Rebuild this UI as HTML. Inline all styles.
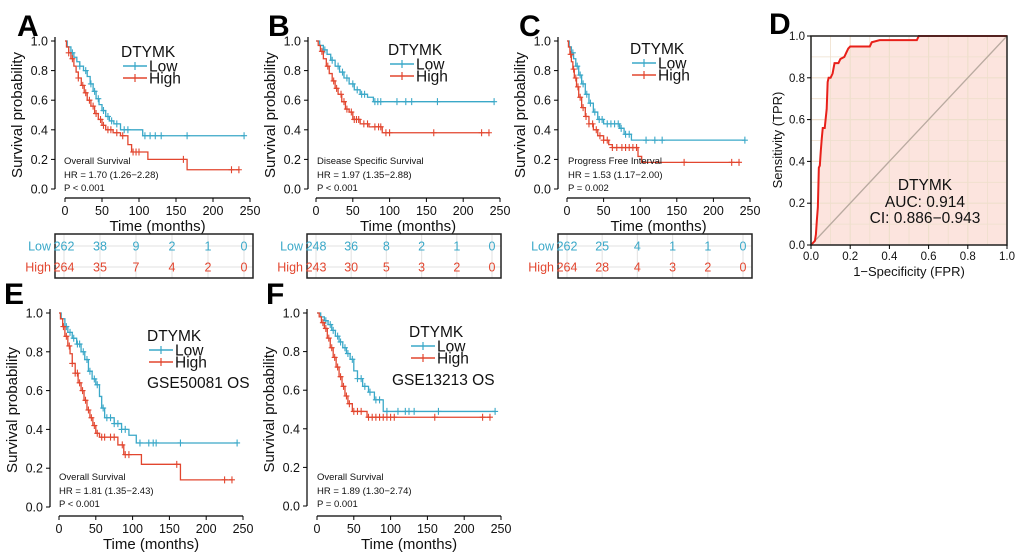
<!DOCTYPE html>
<html><head><meta charset="utf-8">
<style>
html,body{margin:0;padding:0;background:#fff;}
svg{display:block;font-family:"Liberation Sans",Arial,sans-serif;}
</style></head>
<body>
<svg id="fig" width="1020" height="556" viewBox="0 0 1020 556" xmlns="http://www.w3.org/2000/svg"></svg>
<script>
// ---------- DATA ----------
// Kaplan-Meier steps: times where survival drops, and survival after drop
const aLowT  = [3,8,12,16,20,25,30,34,38,42,46,50,55,60,66,75,105];
const aLowS  = [0.96,0.92,0.89,0.86,0.83,0.80,0.76,0.71,0.66,0.61,0.57,0.53,0.49,0.46,0.44,0.40,0.36];
const aHighT = [2,5,8,12,15,18,22,26,30,35,40,45,50,55,65,75,85,90,112,165];
const aHighS = [0.96,0.92,0.88,0.83,0.79,0.75,0.70,0.65,0.60,0.56,0.51,0.47,0.43,0.40,0.38,0.36,0.30,0.25,0.20,0.13];
const aLowC  = [10,20,28,35,40,45,52,58,63,70,80,85,108,115,122,130,165,242];
const aHighC = [5,10,18,24,28,33,38,42,48,52,58,62,70,78,92,96,100,160,225,235];

const bLowT  = [5,10,15,20,26,32,38,45,52,60,70,78];
const bLowS  = [0.97,0.94,0.91,0.87,0.83,0.79,0.75,0.71,0.67,0.64,0.62,0.59];
const bHighT = [3,6,10,14,18,22,26,30,35,40,45,50,60,72,90];
const bHighS = [0.97,0.93,0.88,0.83,0.78,0.73,0.68,0.64,0.59,0.54,0.52,0.47,0.44,0.42,0.38];
const bLowC  = [12,22,30,36,42,50,56,62,66,80,84,88,110,122,130,165,242];
const bHighC = [8,16,24,28,34,38,42,48,52,55,58,65,70,80,85,88,95,100,160,225,235];

const cLowT  = [3,6,9,12,16,20,25,30,36,42,50,72,78,88];
const cLowS  = [0.96,0.92,0.88,0.83,0.77,0.71,0.64,0.58,0.52,0.47,0.44,0.41,0.37,0.33];
const cHighT = [2,4,6,8,10,13,16,20,25,30,36,42,50,57,62,75,97,102];
const cHighS = [0.96,0.91,0.86,0.81,0.75,0.69,0.62,0.55,0.49,0.44,0.40,0.36,0.33,0.30,0.28,0.28,0.22,0.18];
const cLowC  = [8,14,18,22,27,32,38,44,48,55,60,65,70,74,80,85,108,120,130,243];
const cHighC = [5,9,12,15,18,22,26,30,35,40,45,50,55,62,68,75,80,85,90,95,160,225,235];

const eLowT  = [3,8,12,18,24,30,35,40,45,50,55,58,62,75,85,95,105];
const eLowS  = [0.97,0.93,0.90,0.87,0.84,0.80,0.76,0.70,0.66,0.63,0.57,0.51,0.46,0.43,0.40,0.37,0.33];
const eHighT = [2,5,8,12,15,18,22,26,30,34,38,42,46,50,55,80,88,112,165];
const eHighS = [0.97,0.93,0.88,0.83,0.79,0.74,0.69,0.64,0.60,0.55,0.50,0.46,0.42,0.38,0.36,0.32,0.27,0.22,0.14];
const eLowC  = [10,15,20,25,28,33,38,42,48,52,60,65,70,75,80,85,90,110,122,128,132,165,242];
const eHighC = [6,10,14,18,22,25,28,32,36,40,44,48,52,58,62,70,75,86,90,95,160,225,235];

const fLowT  = [5,10,15,20,25,30,35,40,45,50,55,62,70,78,90];
const fLowS  = [0.98,0.96,0.94,0.91,0.88,0.85,0.82,0.79,0.76,0.70,0.66,0.62,0.59,0.55,0.49];
const fHighT = [3,6,10,14,18,22,26,30,34,38,42,48,55,68];
const fHighS = [0.98,0.95,0.92,0.87,0.82,0.77,0.72,0.67,0.62,0.57,0.53,0.49,0.49,0.46];
const fLowC  = [12,18,22,28,32,38,42,48,55,60,65,72,80,85,95,110,120,125,132,165,242];
const fHighC = [8,12,16,20,24,28,32,36,40,44,50,55,60,70,75,80,85,90,95,100,105,160,225,235];

const xTicks = [0,50,100,150,200,250];
const yTicks = [0,0.2,0.4,0.6,0.8,1.0];
const aRiskLow = [262,38,9,2,1,0];  const aRiskHigh = [264,35,7,4,2,0];
const bRiskLow = [248,36,8,2,1,0];  const bRiskHigh = [243,30,5,3,2,0];
const cRiskLow = [262,25,4,1,1,0];  const cRiskHigh = [264,28,4,3,2,0];

// ROC
const rocFPR = [0,0.02,0.025,0.03,0.035,0.04,0.045,0.05,0.055,0.06,0.07,0.08,0.085,0.09,0.10,0.11,0.12,0.14,0.15,0.17,0.18,0.19,0.20,0.30,0.31,0.35,0.54,0.55,1.0];
const rocTPR = [0,0.02,0.05,0.12,0.18,0.37,0.38,0.45,0.51,0.56,0.56,0.65,0.78,0.80,0.80,0.82,0.87,0.87,0.89,0.90,0.92,0.94,0.95,0.95,0.97,0.98,0.98,1.0,1.0];
const rocTicks = [0,0.2,0.4,0.6,0.8,1.0];

// ---------- DRAW ----------
const NS="http://www.w3.org/2000/svg";
const svg=document.getElementById('fig');
const LOW="#3aa8c8", HIGH="#e2462f";
function el(tag,attrs,parent,text){const e=document.createElementNS(NS,tag);for(const k in attrs)e.setAttribute(k,attrs[k]);if(text!==undefined)e.textContent=text;(parent||svg).appendChild(e);return e;}

function kmPanel(L,D){
  const g=el('g',{});
  
  
  const sx=t=>L.x0+(L.x1-L.x0)*t/250;
  const sy=s=>L.y0+(L.y1-L.y0)*s;
  const letter=el('text',{x:L.lx,y:L.ly,'font-size':30,'font-weight':'bold',fill:'#000'},g,L.id.toUpperCase());
  
  
  // axes
  const ya=el('line',{x1:L.ax,x2:L.ax,y1:sy(1)-4,y2:sy(0),stroke:'#000','stroke-width':1.2},g);
  
  
  const xa=el('line',{x1:sx(0),x2:sx(250),y1:L.xy,y2:L.xy,stroke:'#000','stroke-width':1.2},g);
  
  
  yTicks.forEach(v=>{
    el('line',{x1:L.ax-4,x2:L.ax,y1:sy(v),y2:sy(v),stroke:'#000'},g);
    const t=el('text',{x:L.ax-7,y:sy(v)+4.5,'font-size':12.5,'text-anchor':'end',fill:'#111'},g,v.toFixed(1));
    
    
  });
  xTicks.forEach(v=>{
    el('line',{x1:sx(v),x2:sx(v),y1:L.xy,y2:L.xy+4,stroke:'#000'},g);
    const t=el('text',{x:sx(v),y:L.xy+17,'font-size':12.5,'text-anchor':'middle',fill:'#111'},g,String(v));
    
    
  });
  const xt=el('text',{x:(sx(0)+sx(250))/2,y:L.xy+33,'font-size':15,'text-anchor':'middle',fill:'#111'},g,'Time (months)');
  
  
  const ycy=(sy(0)+sy(1))/2;
  const yt=el('text',{x:L.ax-33,y:ycy,'font-size':15,'text-anchor':'middle',fill:'#111',transform:`rotate(-90 ${L.ax-33} ${ycy})`},g,'Survival probability');
  
  
  // curves
  [[D.lowT,D.lowS,D.lowC,D.lowEnd,LOW,'low'],[D.highT,D.highS,D.highC,D.highEnd,HIGH,'high']].forEach(([T,S,C,end,col,nm])=>{
    let d=`M${sx(0)},${sy(1)}`;let cur=1;
    T.forEach((t,i)=>{d+=` H${sx(t)} V${sy(S[i])}`;cur=S[i];});
    d+=` H${sx(end)}`;
    const p=el('path',{d:d,fill:'none',stroke:col,'stroke-width':1.3},g);
    
    
    const sAt=t=>{let s=1;T.forEach((tt,i)=>{if(tt<=t)s=S[i];});return s;};
    C.forEach(t=>{
      const cx=sx(t),cy=sy(sAt(t));
      const m=el('path',{d:`M${cx},${cy-3.5}V${cy+3.5}M${cx-3},${cy}H${cx+3}`,stroke:col,'stroke-width':1.1},g);
      
      
    });
  });
  // legend
  const lg=el('g',{},g);
  
  
  el('text',{x:L.gx,y:L.gy,'font-size':15.5,fill:'#111'},lg,'DTYMK');
  [[LOW,'Low',L.gy+9],[HIGH,'High',L.gy+21]].forEach(([c,t,yy])=>{
    const e=el('g',{},lg);
    
    
    el('line',{x1:L.gx+2,x2:L.gx+26,y1:yy,y2:yy,stroke:c,'stroke-width':1.4},e);
    el('line',{x1:L.gx+14,x2:L.gx+14,y1:yy-4,y2:yy+4,stroke:c,'stroke-width':1.2},e);
    el('text',{x:L.gx+28,y:yy+5.5,'font-size':15.5,fill:'#111'},e,t);
  });
  if(L.gse){
    const gs=el('text',{x:L.gsx,y:L.gsy,'font-size':15.5,fill:'#111'},g,L.gse);
    
    
  }
  // annotation
  const an=el('g',{},g);
  
  
  el('text',{x:L.tx,y:L.ty,'font-size':9.5,fill:'#111'},an,D.title);
  el('text',{x:L.tx,y:L.ty+14,'font-size':9.5,fill:'#111'},an,D.hr);
  el('text',{x:L.tx,y:L.ty+27,'font-size':9.5,fill:'#111'},an,D.p);
  // risk table
  if(D.riskLow){
    const rt=el('g',{},g);
    
    
    const tx=t=>L.bx0+9+(L.bx1-L.bx0-18)*t/250;
    [246,267].forEach(yy=>el('line',{x1:L.bx0,x2:L.bx1,y1:yy,y2:yy,stroke:'#e6e6e6','stroke-width':1.2},rt));
    xTicks.forEach(v=>el('line',{x1:tx(v),x2:tx(v),y1:L.by0,y2:L.by1,stroke:'#e6e6e6','stroke-width':1.2},rt));
    el('rect',{x:L.bx0,y:L.by0,width:L.bx1-L.bx0,height:L.by1-L.by0,fill:'none',stroke:'#222','stroke-width':1.5},rt);
    [[D.riskLow,'Low',LOW,250.5],[D.riskHigh,'High',HIGH,271.5]].forEach(([arr,nm,c,yy])=>{
      el('text',{x:L.bx0-4,y:yy,'font-size':12.5,'text-anchor':'end',fill:c},rt,nm);
      arr.forEach((v,i)=>{
        const t=el('text',{x:tx(xTicks[i]),y:yy,'font-size':12.5,'text-anchor':'middle',fill:c},rt,String(v));
        
        
      });
    });
  }
}

kmPanel({id:'a',lx:17,ly:36,ax:55,x0:65,x1:250,y1:41,y0:189,xy:198,gx:121,gy:57,tx:64,ty:164,bx0:55,bx1:253,by0:234,by1:278},
  {lowT:aLowT,lowS:aLowS,lowC:aLowC,lowEnd:242,highT:aHighT,highS:aHighS,highC:aHighC,highEnd:236,
   title:'Overall Survival',hr:'HR = 1.70 (1.26\u22122.28)',p:'P < 0.001',riskLow:aRiskLow,riskHigh:aRiskHigh});
kmPanel({id:'b',lx:268,ly:36,ax:308,x0:316,x1:500,y1:41,y0:189,xy:198,gx:388,gy:55,tx:317,ty:164,bx0:307,bx1:501,by0:234,by1:278},
  {lowT:bLowT,lowS:bLowS,lowC:bLowC,lowEnd:242,highT:bHighT,highS:bHighS,highC:bHighC,highEnd:236,
   title:'Disease Specific Survival',hr:'HR = 1.97 (1.35\u22122.88)',p:'P < 0.001',riskLow:bRiskLow,riskHigh:bRiskHigh});
kmPanel({id:'c',lx:519,ly:36,ax:558,x0:567,x1:750,y1:41,y0:189,xy:198,gx:630,gy:54,tx:568,ty:164,bx0:558,bx1:752,by0:234,by1:278},
  {lowT:cLowT,lowS:cLowS,lowC:cLowC,lowEnd:243,highT:cHighT,highS:cHighS,highC:cHighC,highEnd:236,
   title:'Progress Free Interval',hr:'HR = 1.53 (1.17\u22122.00)',p:'P = 0.002',riskLow:cRiskLow,riskHigh:cRiskHigh});
kmPanel({id:'e',lx:4,ly:304,ax:50,x0:59,x1:243,y1:313,y0:507,xy:516,gx:147,gy:341,gse:'GSE50081 OS',gsx:147,gsy:388,tx:59,ty:480},
  {lowT:eLowT,lowS:eLowS,lowC:eLowC,lowEnd:242,highT:eHighT,highS:eHighS,highC:eHighC,highEnd:236,
   title:'Overall Survival',hr:'HR = 1.81 (1.35\u22122.43)',p:'P < 0.001'});
kmPanel({id:'f',lx:266,ly:304,ax:307,x0:317,x1:501,y1:313,y0:506,xy:516,gx:409,gy:337,gse:'GSE13213 OS',gsx:392,gsy:385,tx:317,ty:480},
  {lowT:fLowT,lowS:fLowS,lowC:fLowC,lowEnd:242,highT:fHighT,highS:fHighS,highC:fHighC,highEnd:236,
   title:'Overall Survival',hr:'HR = 1.89 (1.30\u22122.74)',p:'P = 0.001'});

// ROC panel D
(function(){
  const g=el('g',{});
  
  
  const X0=811,X1=1007,Y0=245,Y1=36;
  const rx=v=>X0+(X1-X0)*v, ry=v=>Y0+(Y1-Y0)*v;
  el('text',{x:769,y:34,'font-size':30,'font-weight':'bold',fill:'#000'},g,'D');
  let area=`M${rx(0)},${ry(0)}`;
  rocFPR.forEach((f,i)=>{area+=` L${rx(f)},${ry(rocTPR[i])}`;});
  area+=` L${rx(1)},${ry(0)} Z`;
  const ar=el('path',{d:area,fill:'#fce4de'},g);
  
  
  for(let k=0;k<=10;k++){
    el('line',{x1:rx(k/10),x2:rx(k/10),y1:Y1,y2:Y0,stroke:'#eedfcc','stroke-width':k%2?0.8:1.2},g);
    el('line',{x1:X0,x2:X1,y1:ry(k/10),y2:ry(k/10),stroke:'#eedfcc','stroke-width':k%2?0.8:1.2},g);
  }
  const dg=el('line',{x1:rx(0),y1:ry(0),x2:rx(1),y2:ry(1),stroke:'#b9aaa0','stroke-width':1.3},g);
  
  
  const pts=rocFPR.map((f,i)=>`${rx(f)},${ry(rocTPR[i])}`).join(' ');
  const rc=el('polyline',{points:pts,fill:'none',stroke:'#e8201a','stroke-width':2},g);
  
  
  el('rect',{x:X0,y:Y1,width:X1-X0,height:Y0-Y1,fill:'none',stroke:'#222','stroke-width':1.5},g);
  rocTicks.forEach(v=>{
    el('line',{x1:X0-4,x2:X0,y1:ry(v),y2:ry(v),stroke:'#000'},g);
    el('text',{x:X0-6,y:ry(v)+4,'font-size':11.5,'text-anchor':'end',fill:'#111'},g,v.toFixed(1));
    el('line',{x1:rx(v),x2:rx(v),y1:Y0,y2:Y0+4,stroke:'#000'},g);
    el('text',{x:rx(v),y:Y0+15,'font-size':11.5,'text-anchor':'middle',fill:'#111'},g,v.toFixed(1));
  });
  const xt=el('text',{x:(X0+X1)/2,y:276,'font-size':13,'text-anchor':'middle',fill:'#111'},g,'1\u2212Specificity (FPR)');
  
  
  const yt=el('text',{x:782,y:140,'font-size':13,'text-anchor':'middle',fill:'#111',transform:'rotate(-90 782 140)'},g,'Sensitivity (TPR)');
  
  
  const lab=el('g',{},g);
  
  
  el('text',{x:925,y:190,'font-size':15.5,'text-anchor':'middle',fill:'#111'},lab,'DTYMK');
  el('text',{x:925,y:207,'font-size':15.5,'text-anchor':'middle',fill:'#111'},lab,'AUC: 0.914');
  el('text',{x:925,y:223,'font-size':15.5,'text-anchor':'middle',fill:'#111'},lab,'CI: 0.886\u22120.943');
})();
</script>
</body></html>
